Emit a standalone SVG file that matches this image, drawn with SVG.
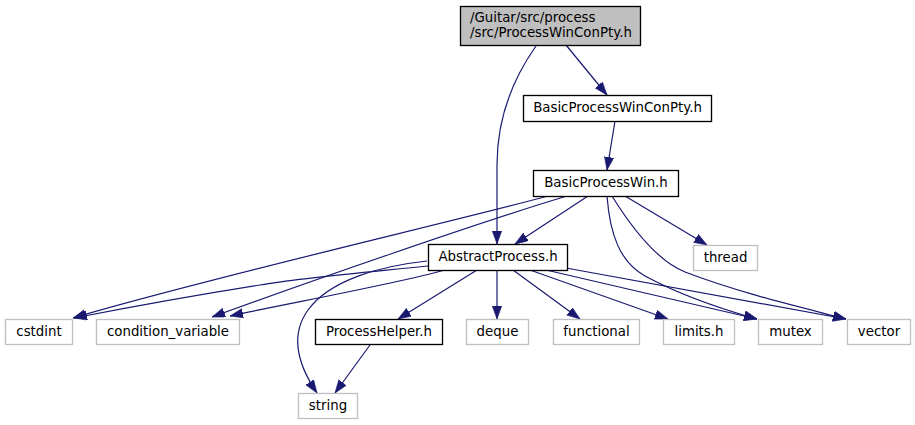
<svg xmlns="http://www.w3.org/2000/svg" width="915" height="425" viewBox="0 0 915 425">
<style>
text{font-family:"DejaVu Sans",sans-serif;font-size:13.33px;fill:#000}
.n rect{fill:#fff;stroke:#000;stroke-width:1.33}
.x rect{fill:#fff;stroke:#bfbfbf;stroke-width:1.33}
.r rect{fill:#bfbfbf;stroke:#000;stroke-width:1.33}
.c text{text-anchor:middle}
#edges path{fill:none;stroke:#191970;stroke-width:1.2;marker-end:url(#ah)}
</style>
<defs>
<marker id="ah" markerUnits="userSpaceOnUse" markerWidth="14" markerHeight="10" refX="13" refY="4.7" orient="auto">
<path d="M0,0 L13,4.7 L0,9.4 z" fill="#191970" stroke="#191970" stroke-width="0.6"/>
</marker>
</defs>
<rect width="915" height="425" fill="#fff"/>
<g id="edges">
<path d="M536,46 C512,80 497,120 497,165 C497,190 497,215 497,244"/>
<path d="M566,45 L607,95"/>
<path d="M615,121 L607,170"/>
<path d="M588,196 L515,244"/>
<path d="M548,196 C460,220 200,280 73,318"/>
<path d="M567,196 C480,222 300,285 212,317"/>
<path d="M625,196 L707,245"/>
<path d="M607,196 C610,235 620,262 645,276 C680,295 725,310 757,319"/>
<path d="M612,196 C630,225 655,260 685,272 C740,293 800,307 846,319"/>
<path d="M428,266 C370,272 300,278 260,285 C190,296 120,309 74,318"/>
<path d="M445,270 C390,285 290,303 230,316"/>
<path d="M427,261 C380,266 330,280 308,310 C290,335 298,365 317,393"/>
<path d="M477,270 L398,319"/>
<path d="M497,270 L497,319"/>
<path d="M513,270 L580,319"/>
<path d="M530,270 L668,319"/>
<path d="M546,270 L757,319"/>
<path d="M566,268 L846,319"/>
<path d="M370,345 L335,393"/>
</g>
<g id="root" class="r"><rect x="460.5" y="6.5" width="180" height="39"/><text x="470" y="22">/Guitar/src/process</text><text x="470" y="37">/src/ProcessWinConPty.h</text></g>
<g id="BasicProcessWinConPty" class="n c"><rect x="523.5" y="95.5" width="188" height="26"/><text x="617.5" y="112">BasicProcessWinConPty.h</text></g>
<g id="BasicProcessWin" class="n c"><rect x="533.5" y="170.5" width="145" height="26"/><text x="606" y="187">BasicProcessWin.h</text></g>
<g id="AbstractProcess" class="n c"><rect x="428.5" y="244.5" width="139" height="26"/><text x="498" y="261">AbstractProcess.h</text></g>
<g id="thread" class="x c"><rect x="693.5" y="245.5" width="64" height="25"/><text x="725.5" y="262">thread</text></g>
<g id="cstdint" class="x c"><rect x="5.5" y="319.5" width="67" height="25"/><text x="39" y="336">cstdint</text></g>
<g id="condition_variable" class="x c"><rect x="96.5" y="319.5" width="143" height="25"/><text x="168" y="336">condition_variable</text></g>
<g id="ProcessHelper" class="n c"><rect x="315.5" y="319.5" width="127" height="25"/><text x="379" y="336">ProcessHelper.h</text></g>
<g id="deque" class="x c"><rect x="466.5" y="319.5" width="62" height="25"/><text x="497.5" y="336">deque</text></g>
<g id="functional" class="x c"><rect x="553.5" y="319.5" width="86" height="25"/><text x="596.5" y="336">functional</text></g>
<g id="limits" class="x c"><rect x="663.5" y="319.5" width="71" height="25"/><text x="699" y="336">limits.h</text></g>
<g id="mutex" class="x c"><rect x="758.5" y="319.5" width="64" height="25"/><text x="790.5" y="336">mutex</text></g>
<g id="vector" class="x c"><rect x="847.5" y="319.5" width="63" height="25"/><text x="879" y="336">vector</text></g>
<g id="string" class="x c"><rect x="298.5" y="393.5" width="59" height="25"/><text x="328" y="410">string</text></g>
</svg>
